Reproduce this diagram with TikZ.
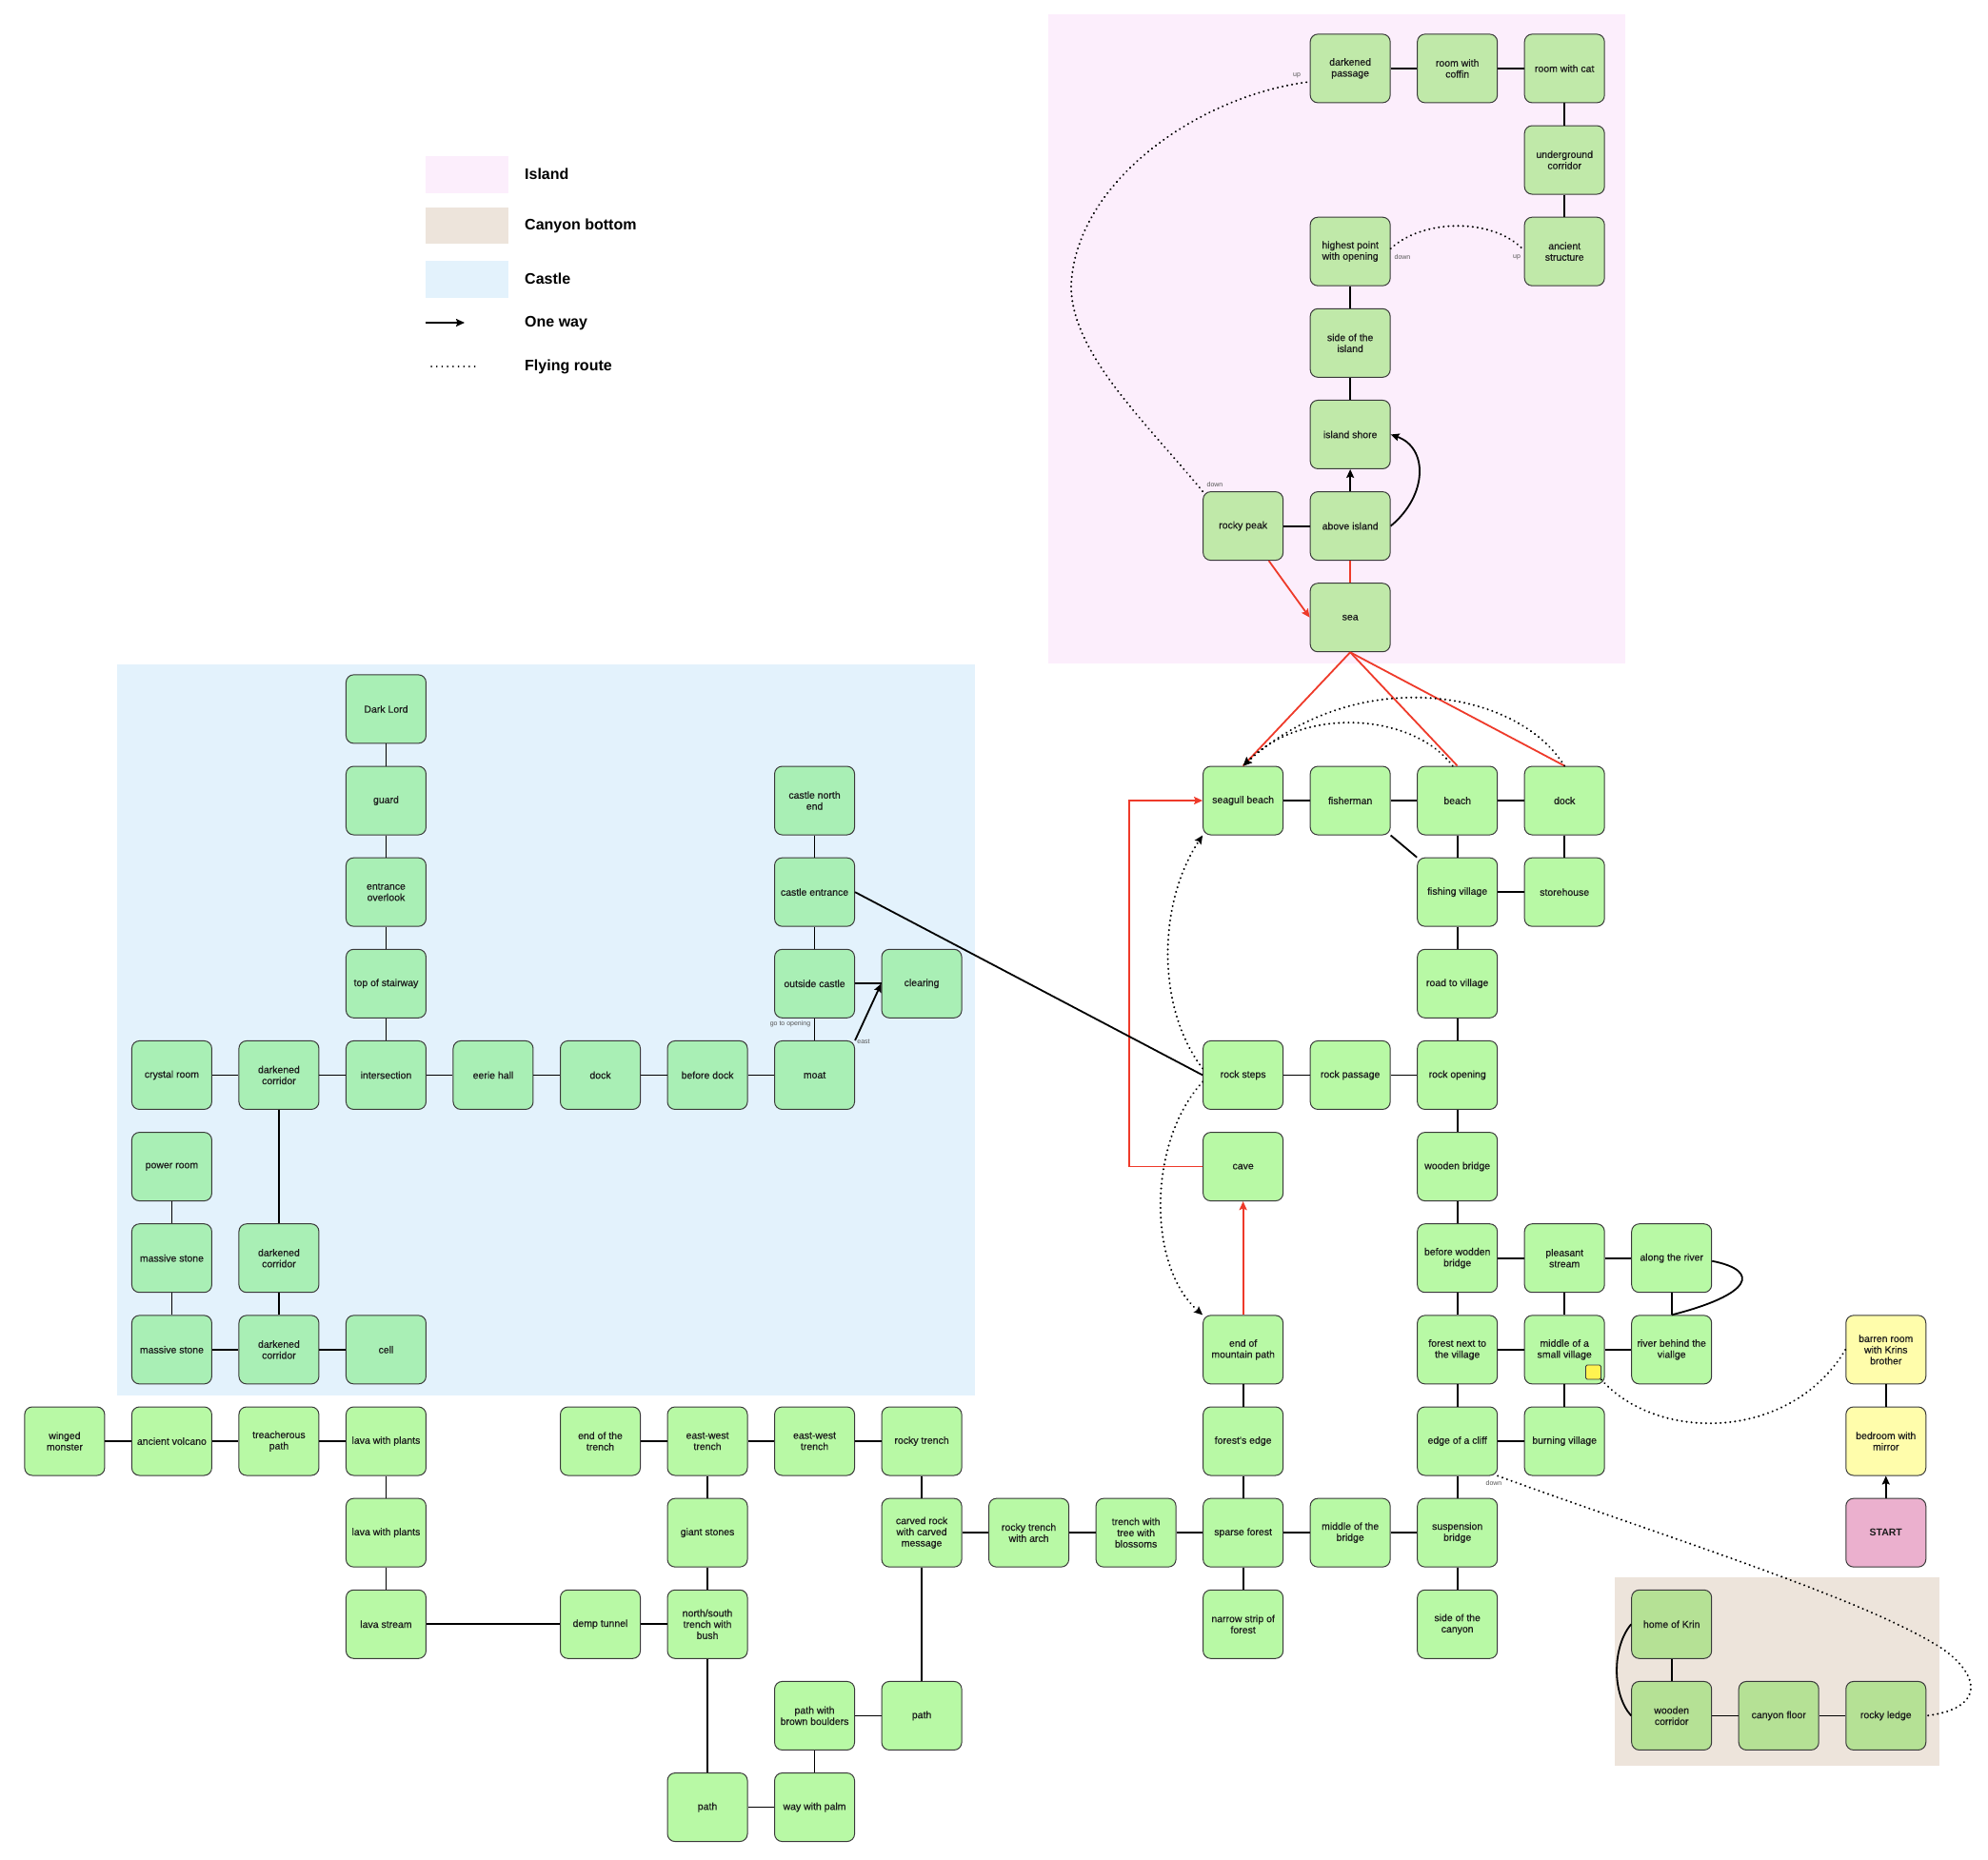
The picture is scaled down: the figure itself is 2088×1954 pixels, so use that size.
\documentclass[tikz,border=0pt]{standalone}
\usepackage{fontspec}
\setmainfont{Liberation Sans}
\newfontfamily\roomfont{Liberation Sans}[FakeBold=0.6]
\usetikzlibrary{arrows.meta}
\definecolor{islbg}{HTML}{FCEEFC}
\definecolor{casbg}{HTML}{E3F2FC}
\definecolor{canbg}{HTML}{EDE4DB}
\definecolor{islfill}{HTML}{C0E9A9}
\definecolor{casfill}{HTML}{A9EFB5}
\definecolor{nrmfill}{HTML}{B8F9A5}
\definecolor{canfill}{HTML}{B5E195}
\definecolor{yelfill}{HTML}{FFFDAB}
\definecolor{startfill}{HTML}{EBB0CE}
\definecolor{sqfill}{HTML}{FFF350}
\definecolor{boxline}{HTML}{3A3A3A}
\definecolor{boxtext}{HTML}{1C1C1C}
\definecolor{redline}{HTML}{EE3A2A}
\definecolor{lblgray}{HTML}{555555}
\newcommand\lk[2]{\draw[link] (#1) -- (#2);}
\begin{document}
\begin{tikzpicture}[x=1pt,y=-1pt,
  room/.style={draw=boxline, line width=1pt, rounded corners=8pt, minimum width=84pt, minimum height=72pt, inner sep=0pt, align=center, text=boxtext, font=\roomfont\fontsize{10.5}{11.7}\selectfont},
  isl/.style={room, fill=islfill},
  cas/.style={room, fill=casfill},
  nrm/.style={room, fill=nrmfill},
  can/.style={room, fill=canfill},
  yel/.style={room, fill=yelfill},
  startbox/.style={room, fill=startfill, font=\fontsize{10.5}{11.7}\selectfont\bfseries},
  link/.style={line width=1.8pt, black},
  redlink/.style={line width=1.8pt, redline},
  fly/.style={line width=2.2pt, black, line cap=round, dash pattern=on 0.1pt off 5pt},
  tip/.style={-{Stealth[length=9pt,width=8pt,inset=1.5pt]}},
  lbl/.style={font=\fontsize{7}{8}\selectfont, text=lblgray, inner sep=0pt},
  legtext/.style={font=\fontsize{16}{18}\selectfont\bfseries, anchor=west, inner sep=0pt}
]
\useasboundingbox (0,0) rectangle (2088,1954);
% region backgrounds
\fill[islbg] (1101,15) rectangle (1707,697);
\fill[casbg] (122.5,698) rectangle (1024,1466);
\fill[canbg] (1696,1657) rectangle (2037,1855);
% legend
\fill[islbg] (447,164) rectangle (534,203);
\fill[canbg] (447,218) rectangle (534,256);
\fill[casbg] (447,274) rectangle (534,313);
\coordinate (owA) at (447,339); \coordinate (owB) at (488,339);
\draw[link, line width=2.2pt, tip] (owA) -- (owB);
\coordinate (flA) at (453,385); \coordinate (flB) at (500,385);
\draw[fly, line width=1.8pt, dash pattern=on 0.1pt off 5.6pt] (flA) -- (flB);
\node[legtext] (lg1) at (551,183) {Island};
\node[legtext] (lg2) at (551,237) {Canyon bottom};
\node[legtext] (lg3) at (551,293) {Castle};
\node[legtext] (lg4) at (551,340) {One way};
\node[legtext] (lg5) at (551,385) {Flying route};

\begin{scope}[shift={(67.9pt,-71.9pt)}, x=112.52pt, y=-96.14pt]
% island
\node[isl] (dpass) at (12,0) {darkened\\passage};
\node[isl] (coffin) at (13,0) {room with\\coffin};
\node[isl] (cat) at (14,0) {room with cat};
\node[isl] (ucorr) at (14,1) {underground\\corridor};
\node[isl] (ancient) at (14,2) {ancient\\structure};
\node[isl] (highest) at (12,2) {highest point\\with opening};
\node[isl] (sideisl) at (12,3) {side of the\\island};
\node[isl] (shore) at (12,4) {island shore};
\node[isl] (above) at (12,5) {above island};
\node[isl] (rpeak) at (11,5) {rocky peak};
\node[isl] (sea) at (12,6) {sea};
% main land
\node[nrm] (gull) at (11,8) {seagull beach};
\node[nrm] (fisher) at (12,8) {fisherman};
\node[nrm] (beach) at (13,8) {beach};
\node[nrm] (mdock) at (14,8) {dock};
\node[nrm] (fvill) at (13,9) {fishing village};
\node[nrm] (store) at (14,9) {storehouse};
\node[nrm] (road) at (13,10) {road to village};
\node[nrm] (rsteps) at (11,11) {rock steps};
\node[nrm] (rpass) at (12,11) {rock passage};
\node[nrm] (ropen) at (13,11) {rock opening};
\node[nrm] (cave) at (11,12) {cave};
\node[nrm] (wbridge) at (13,12) {wooden bridge};
\node[nrm] (bwb) at (13,13) {before wodden\\bridge};
\node[nrm] (pstream) at (14,13) {pleasant\\stream};
\node[nrm] (along) at (15,13) {along the river};
\node[nrm] (endmtn) at (11,14) {end of\\mountain path};
\node[nrm] (fnext) at (13,14) {forest next to\\the village};
\node[nrm] (midvill) at (14,14) {middle of a\\small village};
\node[nrm] (behind) at (15,14) {river behind the\\viallge};
\node[yel] (barren) at (17,14) {barren room\\with Krins\\brother};
\node[nrm] (fedge) at (11,15) {forest's edge};
\node[nrm] (cliff) at (13,15) {edge of a cliff};
\node[nrm] (burning) at (14,15) {burning village};
\node[yel] (bedroom) at (17,15) {bedroom with\\mirror};
\node[nrm] (sparse) at (11,16) {sparse forest};
\node[nrm] (midbridge) at (12,16) {middle of the\\bridge};
\node[nrm] (susp) at (13,16) {suspension\\bridge};
\node[startbox] (start) at (17,16) {START};
\node[nrm] (narrow) at (11,17) {narrow strip of\\forest};
\node[nrm] (sidecan) at (13,17) {side of the\\canyon};
% canyon
\node[can] (home) at (15,17) {home of Krin};
\node[can] (wcorr) at (15,18) {wooden\\corridor};
\node[can] (cfloor) at (16,18) {canyon floor};
\node[can] (ledge) at (17,18) {rocky ledge};
% bottom left
\node[nrm] (winged) at (0,15) {winged\\monster};
\node[nrm] (volcano) at (1,15) {ancient volcano};
\node[nrm] (treach) at (2,15) {treacherous\\path};
\node[nrm] (lava1) at (3,15) {lava with plants};
\node[nrm] (lava2) at (3,16) {lava with plants};
\node[nrm] (lstream) at (3,17) {lava stream};
\node[nrm] (demp) at (5,17) {demp tunnel};
\node[nrm] (endtr) at (5,15) {end of the\\trench};
\node[nrm] (ew1) at (6,15) {east-west\\trench};
\node[nrm] (ew2) at (7,15) {east-west\\trench};
\node[nrm] (rtrench) at (8,15) {rocky trench};
\node[nrm] (giant) at (6,16) {giant stones};
\node[nrm] (nstr) at (6,17) {north/south\\trench with\\bush};
\node[nrm] (path1) at (6,19) {path};
\node[nrm] (palm) at (7,19) {way with palm};
\node[nrm] (boulders) at (7,18) {path with\\brown boulders};
\node[nrm] (path2) at (8,18) {path};
\node[nrm] (carved) at (8,16) {carved rock\\with carved\\message};
\node[nrm] (arch) at (9,16) {rocky trench\\with arch};
\node[nrm] (tree) at (10,16) {trench with\\tree with\\blossoms};
% castle
\node[cas] (dlord) at (3,7) {Dark Lord};
\node[cas] (guard) at (3,8) {guard};
\node[cas] (overlook) at (3,9) {entrance\\overlook};
\node[cas] (stair) at (3,10) {top of stairway};
\node[cas] (crystal) at (1,11) {crystal room};
\node[cas] (dc1) at (2,11) {darkened\\corridor};
\node[cas] (inter) at (3,11) {intersection};
\node[cas] (eerie) at (4,11) {eerie hall};
\node[cas] (cdock) at (5,11) {dock};
\node[cas] (bdock) at (6,11) {before dock};
\node[cas] (moat) at (7,11) {moat};
\node[cas] (cnorth) at (7,8) {castle north\\end};
\node[cas] (centr) at (7,9) {castle entrance};
\node[cas] (outside) at (7,10) {outside castle};
\node[cas] (clearing) at (8,10) {clearing};
\node[cas] (power) at (1,12) {power room};
\node[cas] (ms1) at (1,13) {massive stone};
\node[cas] (ms2) at (1,14) {massive stone};
\node[cas] (dc2) at (2,13) {darkened\\corridor};
\node[cas] (dc3) at (2,14) {darkened\\corridor};
\node[cas] (cell) at (3,14) {cell};
\end{scope}

\node[draw=boxline, line width=0.8pt, fill=sqfill, rounded corners=1.5pt, minimum width=16pt, minimum height=15pt, inner sep=0pt] (ysq) at (1673.5,1441.5) {};

% island links
\lk{dpass}{coffin} \lk{coffin}{cat} \lk{cat}{ucorr} \lk{ucorr}{ancient}
\lk{highest}{sideisl} \lk{sideisl}{shore} \lk{rpeak}{above}
\draw[link, tip] (above) -- (shore);
\draw[link, tip] (above.east) .. controls (1500,520) and (1500,470) .. (shore.east);
\draw[redlink] (above) -- (sea);
\draw[redlink, tip] ([xshift=27pt]rpeak.south) -- (sea.west);
\draw[fly] ([yshift=3pt]highest.east) .. controls (1495,229) and (1570,229) .. ([yshift=1pt]ancient.west);
\draw[fly] (rpeak.north west) .. controls (1200,440) and (1125,370) .. (1125,300) .. controls (1130,190) and (1260,100) .. ([yshift=-14pt]dpass.west);
% sea links
\draw[redlink] (sea.south) -- (gull.north);
\draw[redlink] (sea.south) -- (beach.north);
\draw[redlink] (sea.south) -- (mdock.north);
\draw[fly, tip] ([xshift=-5pt]beach.north) .. controls (1485,750) and (1370,740) .. (gull.north);
\draw[fly, tip] (mdock.north) .. controls (1590,720) and (1420,700) .. (gull.north);
% village area
\lk{gull}{fisher} \lk{fisher}{beach} \lk{beach}{mdock}
\draw[link] (fisher.south east) -- (fvill.north west);
\lk{beach}{fvill} \lk{mdock}{store} \lk{fvill}{store} \lk{fvill}{road} \lk{road}{ropen}
\lk{rsteps}{rpass} \lk{rpass}{ropen} \lk{ropen}{wbridge} \lk{wbridge}{bwb}
\lk{bwb}{pstream} \lk{pstream}{along} \lk{bwb}{fnext} \lk{pstream}{midvill} \lk{along}{behind}
\draw[link] ([yshift=-3pt]along.east) .. controls (1850,1335) and (1840,1360) .. (behind.north);
\lk{fnext}{midvill} \lk{midvill}{behind} \lk{fnext}{cliff} \lk{midvill}{burning} \lk{cliff}{burning}
\lk{cliff}{susp} \lk{susp}{sidecan} \lk{midbridge}{susp} \lk{sparse}{midbridge}
\draw[fly] (ysq.south east) .. controls (1740,1515) and (1880,1515) .. (barren.west);
\draw[fly] (cliff.south east) .. controls (1750,1615) and (1960,1680) .. (2040,1732) .. controls (2080,1760) and (2085,1795) .. (ledge.east);
\draw[link, tip] (start) -- (bedroom);
\lk{bedroom}{barren}
% canyon
\lk{home}{wcorr} \lk{wcorr}{cfloor} \lk{cfloor}{ledge}
\draw[link] (home.west) .. controls (1693,1730) and (1693,1780) .. (wcorr.west);
% mountain path
\draw[redlink, tip] (endmtn) -- (cave);
\draw[redlink, tip] (cave.west) -- ++(-77,0) |- (gull.west);
\lk{endmtn}{fedge} \lk{fedge}{sparse} \lk{sparse}{narrow}
\draw[fly, tip] ([yshift=7pt]rsteps.west) .. controls (1215,1060) and (1215,950) .. (gull.south west);
\draw[fly, tip] ([yshift=-7pt]rsteps.west) .. controls (1205,1200) and (1205,1330) .. (endmtn.north west);
\draw[link] (centr.east) -- (rsteps.west);
% trenches
\lk{sparse}{tree} \lk{tree}{arch} \lk{arch}{carved} \lk{rtrench}{carved} \lk{carved}{path2}
\lk{path2}{boulders} \lk{boulders}{palm} \lk{palm}{path1} \lk{path1}{nstr}
\lk{nstr}{giant} \lk{giant}{ew1} \lk{endtr}{ew1} \lk{ew1}{ew2} \lk{ew2}{rtrench}
\lk{demp}{nstr} \lk{lstream}{demp} \lk{lava2}{lstream} \lk{lava1}{lava2}
\lk{winged}{volcano} \lk{volcano}{treach} \lk{treach}{lava1}
% castle
\lk{dlord}{guard} \lk{guard}{overlook} \lk{overlook}{stair} \lk{stair}{inter}
\lk{crystal}{dc1} \lk{dc1}{inter} \lk{inter}{eerie} \lk{eerie}{cdock} \lk{cdock}{bdock} \lk{bdock}{moat}
\lk{dc1}{dc2} \lk{dc2}{dc3} \lk{power}{ms1} \lk{ms1}{ms2} \lk{ms2}{dc3} \lk{dc3}{cell}
\lk{moat}{outside} \lk{outside}{clearing} \lk{cnorth}{centr} \lk{centr}{outside}
\draw[link, tip] (moat.north east) -- (clearing.west);
% small labels
\node[lbl] (l1) at (1362,79) {up};
\node[lbl] (l2) at (1473,270) {down};
\node[lbl] (l3) at (1593,270) {up};
\node[lbl] (l4) at (1276,509) {down};
\node[lbl] (l5) at (830,1076) {go to opening};
\node[lbl] (l6) at (907,1094) {east};
\node[lbl] (l7) at (1569,1558) {down};
\end{tikzpicture}
\end{document}
